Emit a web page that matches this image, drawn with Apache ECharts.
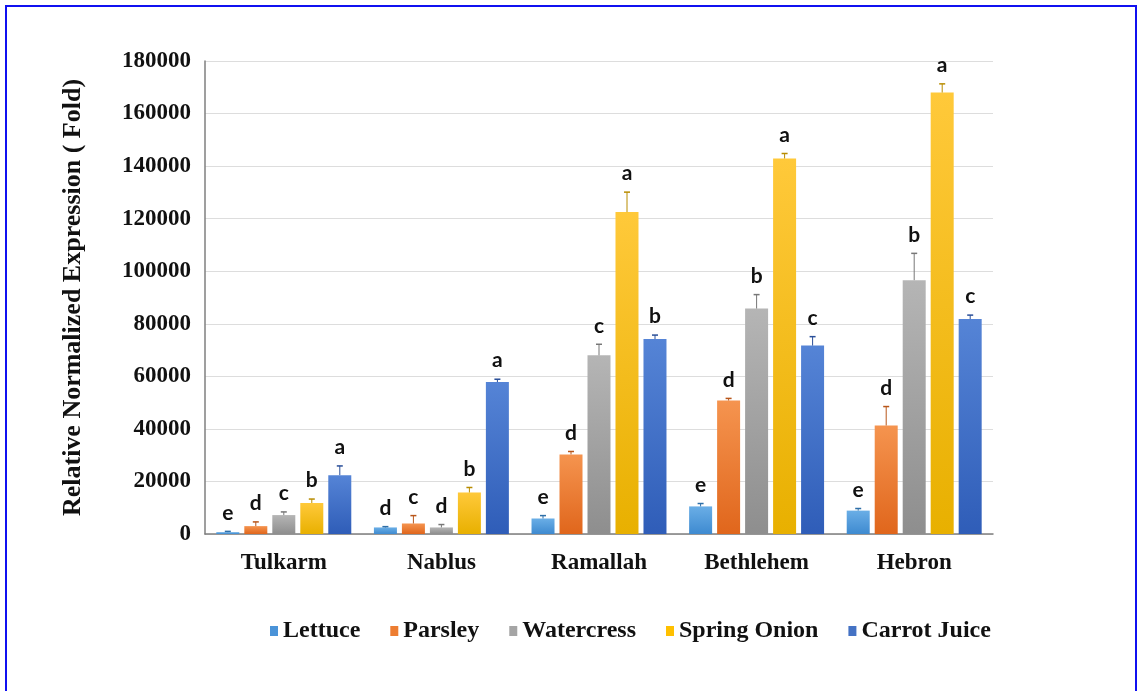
<!DOCTYPE html>
<html>
<head>
<meta charset="utf-8">
<script src="https://cdn.jsdelivr.net/npm/echarts@6/dist/echarts.min.js"></script>
<style>html,body{margin:0;padding:0;background:#fff;}#c{width:1141px;height:691px;}</style>
</head>
<body>
<div id="c"></div>
<script>
const categories = ['Tulkarm', 'Nablus', 'Ramallah', 'Bethlehem', 'Hebron'];
const seriesNames = ['Lettuce', 'Parsley', 'Watercress', 'Spring Onion', 'Carrot Juice'];
const yTicks = [0, 20000, 40000, 60000, 80000, 100000, 120000, 140000, 160000, 180000];

const lettuce = [700, 2500, 5900, 10500, 8900];
const lettuceErr = [300, 300, 1100, 1100, 800];
const lettuceLetters = ['e', 'd', 'e', 'e', 'e'];

const parsley = [3000, 4000, 30300, 50800, 41300];
const parsleyErr = [1600, 3000, 1100, 800, 7200];
const parsleyLetters = ['d', 'c', 'd', 'd', 'd'];

const watercress = [7200, 2500, 68000, 85800, 96600];
const watercressErr = [1200, 1100, 4200, 5300, 10200];
const watercressLetters = ['c', 'd', 'c', 'b', 'b'];

const springOnion = [11800, 15800, 122500, 142900, 168000];
const springOnionErr = [1500, 1900, 7600, 1900, 3300];
const springOnionLetters = ['b', 'b', 'a', 'a', 'a'];

const carrotJuice = [22400, 57800, 74200, 71700, 81800];
const carrotJuiceErr = [3500, 1100, 1500, 3400, 1500];
const carrotJuiceLetters = ['a', 'a', 'b', 'c', 'c'];

const values = [lettuce, parsley, watercress, springOnion, carrotJuice];
const errs = [lettuceErr, parsleyErr, watercressErr, springOnionErr, carrotJuiceErr];
const letters = [lettuceLetters, parsleyLetters, watercressLetters, springOnionLetters, carrotJuiceLetters];

const topColors = ['#6AAEE6', '#F5944F', '#B5B5B5', '#FFC93A', '#5584D6'];
const bottomColors = ['#3E8AD0', '#E0661C', '#8E8E8E', '#E8B000', '#2F5DB8'];
const legendColors = ['#4A93D8', '#ED7D31', '#A5A5A5', '#FFC000', '#4472C4'];
const errColors = ['#2E6FA8', '#B8561A', '#777777', '#B88C00', '#2A4F99'];

const BAR_W = 23;
const STEP = 28;

const series = [];
seriesNames.forEach((name, i) => {
  series.push({
    name: name,
    type: 'bar',
    barWidth: BAR_W,
    barGap: '21.7%',
    data: values[i],
    itemStyle: {
      color: new echarts.graphic.LinearGradient(0, 0, 0, 1, [
        {offset: 0, color: topColors[i]},
        {offset: 1, color: bottomColors[i]}
      ])
    },
    z: 2
  });
});
seriesNames.forEach((name, i) => {
  series.push({
    type: 'custom',
    name: name + ' err',
    data: values[i].map((v, k) => [k, v, v + errs[i][k], letters[i][k]]),
    encode: {x: 0, y: [1, 2]},
    z: 3,
    renderItem: function (params, api) {
      const k = api.value(0);
      const base = api.coord([k, api.value(1)]);
      const top = api.coord([k, api.value(2)]);
      const x = base[0] + (i - 2) * STEP;
      return {
        type: 'group',
        children: [
          {type: 'line', shape: {x1: x, y1: base[1], x2: x, y2: top[1]}, style: {stroke: errColors[i], lineWidth: 1}},
          {type: 'line', shape: {x1: x - 3, y1: top[1], x2: x + 3, y2: top[1]}, style: {stroke: errColors[i], lineWidth: 1.5}},
          {type: 'text', style: {text: letters[i][k], x: x, y: top[1] - 8, align: 'center', verticalAlign: 'bottom',
            font: 'bold 21px Lato, "Open Sans", sans-serif', fill: '#111'}}
        ]
      };
    }
  });
});

const chart = echarts.init(document.getElementById('c'));
chart.setOption({
  animation: false,
  backgroundColor: '#ffffff',
  graphic: [{
    type: 'rect', shape: {x: 6, y: 6, width: 1130, height: 700},
    style: {fill: 'none', stroke: '#1010F0', lineWidth: 2}, silent: true
  }],
  grid: {left: 205, right: 148, top: 61, bottom: 157},
  legend: {
    data: seriesNames.map((n, i) => ({name: n, itemStyle: {color: legendColors[i]}})),
    left: 265, top: 614,
    icon: 'rect', itemWidth: 8, itemHeight: 10, itemGap: 30,
    textStyle: {fontFamily: '"Liberation Serif", serif', fontWeight: 'bold', fontSize: 24, color: '#111', padding: [0, 0, 0, 0]}
  },
  xAxis: {
    type: 'category',
    data: categories,
    axisLine: {lineStyle: {color: '#7F7F7F', width: 1.5}},
    axisTick: {show: false},
    axisLabel: {margin: 18, fontFamily: '"Liberation Serif", serif', fontWeight: 'bold', fontSize: 23, color: '#111'}
  },
  yAxis: {
    type: 'value',
    min: yTicks[0], max: yTicks[yTicks.length - 1], interval: yTicks[1] - yTicks[0],
    name: 'Relative Normalized Expression ( Fold)',
    nameLocation: 'middle', nameRotate: 90, nameGap: 119,
    nameTextStyle: {fontFamily: '"Liberation Serif", serif', fontWeight: 'bold', fontSize: 26, color: '#111'},
    axisLine: {show: true, lineStyle: {color: '#7F7F7F', width: 1.5}},
    axisTick: {show: false},
    splitLine: {lineStyle: {color: '#DDDDDD', width: 1}},
    axisLabel: {margin: 14, fontFamily: '"Liberation Serif", serif', fontWeight: 'bold', fontSize: 23, color: '#111',
      formatter: v => String(v)}
  },
  series: series
});
</script>
</body>
</html>
